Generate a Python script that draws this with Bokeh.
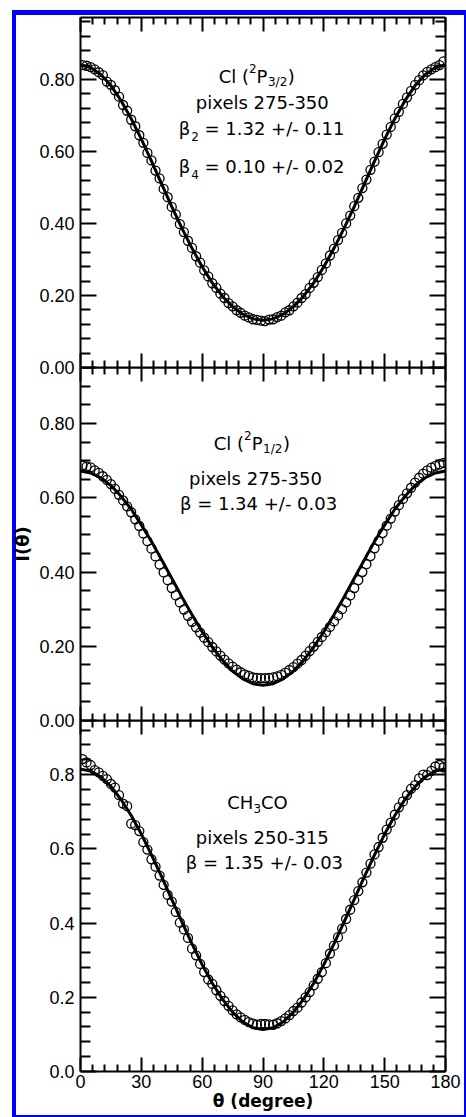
from bokeh.plotting import figure
from bokeh.models import Range1d, LinearAxis, FixedTicker, NumeralTickFormatter, Label, CustomJSTickFormatter
from bokeh.layouts import column
from bokeh.embed import file_html
from bokeh.resources import INLINE

# ---------------- data ----------------
theta = [1, 3, 5, 7, 9, 11, 13, 15, 17, 19, 21, 23, 25, 27, 29, 31, 33, 35, 37, 39,
         41, 43, 45, 47, 49, 51, 53, 55, 57, 59, 61, 63, 65, 67, 69, 71, 73, 75, 77, 79,
         81, 83, 85, 87, 89, 91, 93, 95, 97, 99, 101, 103, 105, 107, 109, 111, 113, 115, 117, 119,
         121, 123, 125, 127, 129, 131, 133, 135, 137, 139, 141, 143, 145, 147, 149, 151, 153, 155, 157, 159,
         161, 163, 165, 167, 169, 171, 173, 175, 177, 179]

cl32_data = [0.840, 0.838, 0.834, 0.828, 0.820, 0.812, 0.794, 0.785, 0.770, 0.752,
             0.729, 0.713, 0.688, 0.670, 0.645, 0.624, 0.596, 0.575, 0.547, 0.525,
             0.496, 0.473, 0.446, 0.425, 0.398, 0.376, 0.352, 0.332, 0.309, 0.291,
             0.270, 0.253, 0.234, 0.221, 0.205, 0.193, 0.179, 0.170, 0.159, 0.152,
             0.144, 0.139, 0.134, 0.132, 0.130,
             0.129, 0.133, 0.134, 0.140, 0.144, 0.153, 0.159, 0.170, 0.180, 0.193,
             0.204, 0.221, 0.235, 0.251, 0.271, 0.289, 0.311, 0.330, 0.354, 0.374,
             0.400, 0.422, 0.448, 0.471, 0.498, 0.522, 0.549, 0.572, 0.598, 0.621,
             0.647, 0.668, 0.692, 0.710, 0.732, 0.750, 0.768, 0.785, 0.798, 0.811,
             0.821, 0.828, 0.834, 0.840, 0.850]

cl12_data = [0.687, 0.684, 0.682, 0.674, 0.667, 0.658, 0.648, 0.637, 0.624, 0.608,
             0.593, 0.577, 0.561, 0.542, 0.524, 0.504, 0.483, 0.463, 0.442, 0.420,
             0.399, 0.378, 0.357, 0.337, 0.318, 0.299, 0.282, 0.266, 0.251, 0.237,
             0.223, 0.211, 0.198, 0.186, 0.175, 0.164, 0.154, 0.145, 0.137, 0.130,
             0.124, 0.120, 0.116, 0.115, 0.114,
             0.114, 0.115, 0.116, 0.119, 0.123, 0.129, 0.136, 0.144, 0.153, 0.163,
             0.175, 0.187, 0.199, 0.212, 0.225, 0.238, 0.252, 0.267, 0.283, 0.300,
             0.318, 0.337, 0.357, 0.378, 0.400, 0.421, 0.443, 0.464, 0.484, 0.505,
             0.525, 0.544, 0.563, 0.580, 0.597, 0.612, 0.627, 0.641, 0.654, 0.665,
             0.674, 0.681, 0.686, 0.690, 0.694]

ch3co_data = [0.842, 0.833, 0.826, 0.812, 0.806, 0.797, 0.788, 0.775, 0.765, 0.745,
              0.722, 0.715, 0.668, 0.664, 0.648, 0.618, 0.598, 0.572, 0.552, 0.528,
              0.503, 0.476, 0.458, 0.430, 0.401, 0.383, 0.360, 0.331, 0.313, 0.290,
              0.268, 0.248, 0.236, 0.219, 0.204, 0.190, 0.177, 0.165, 0.154, 0.146,
              0.139, 0.133, 0.129, 0.126, 0.128,
              0.128, 0.127, 0.126, 0.130, 0.136, 0.143, 0.152, 0.163, 0.172, 0.186,
              0.200, 0.214, 0.232, 0.250, 0.268, 0.292, 0.318, 0.339, 0.362, 0.385,
              0.411, 0.436, 0.462, 0.486, 0.510, 0.536, 0.560, 0.585, 0.605, 0.630,
              0.652, 0.671, 0.692, 0.712, 0.728, 0.745, 0.762, 0.772, 0.790, 0.800,
              0.799, 0.810, 0.822, 0.826, 0.820]

fit_theta = [0, 5, 10, 15, 20, 25, 30, 35, 40, 45, 50, 55, 60, 65, 70, 75, 80, 85, 90,
             95, 100, 105, 110, 115, 120, 125, 130, 135, 140, 145, 150, 155, 160, 165, 170, 175, 180]

cl32_fit = [0.840, 0.833, 0.814, 0.783, 0.741, 0.691, 0.634, 0.573, 0.510, 0.447, 0.387, 0.331,
            0.280, 0.235, 0.198, 0.169, 0.148, 0.135, 0.131, 0.135, 0.148, 0.169, 0.198, 0.235,
            0.280, 0.331, 0.387, 0.447, 0.510, 0.573, 0.634, 0.691, 0.741, 0.783, 0.814, 0.833, 0.840]

cl12_fit = [0.672, 0.667, 0.654, 0.633, 0.604, 0.569, 0.527, 0.482, 0.433, 0.383, 0.333, 0.285,
            0.239, 0.198, 0.162, 0.133, 0.112, 0.099, 0.095, 0.099, 0.112, 0.133, 0.162, 0.198,
            0.239, 0.285, 0.333, 0.383, 0.433, 0.482, 0.527, 0.569, 0.604, 0.633, 0.654, 0.667, 0.672]

ch3co_fit = [0.815, 0.810, 0.794, 0.768, 0.733, 0.690, 0.640, 0.584, 0.525, 0.464, 0.403, 0.344,
             0.288, 0.238, 0.195, 0.160, 0.134, 0.118, 0.113, 0.118, 0.134, 0.160, 0.195, 0.238,
             0.288, 0.344, 0.403, 0.464, 0.525, 0.584, 0.640, 0.690, 0.733, 0.768, 0.794, 0.810, 0.815]

x_major = [0, 30, 60, 90, 120, 150, 180]
x_minor = [6, 12, 18, 24, 36, 42, 48, 54, 66, 72, 78, 84, 96, 102, 108, 114,
           126, 132, 138, 144, 156, 162, 168, 174]
y_major = [0.0, 0.2, 0.4, 0.6, 0.8]
y_minor_04 = [0.04, 0.08, 0.12, 0.16, 0.24, 0.28, 0.32, 0.36, 0.44, 0.48, 0.52, 0.56,
              0.64, 0.68, 0.72, 0.76, 0.84, 0.88, 0.92, 0.96]
y_minor_05 = [0.05, 0.10, 0.15, 0.25, 0.30, 0.35, 0.45, 0.50, 0.55, 0.65, 0.70, 0.75,
              0.85, 0.90, 0.95]

x_title = "θ (degree)"
y_title = "I(θ)"

# ---------------- styling helpers ----------------
TICK_FONT = "Liberation Sans"
ANN_FONT = "DejaVu Sans"
ANN = 18
SMALL = 12
LEFT_BORDER = 72
ADV = {'C': 0.698, 'l': 0.278, ' ': 0.318, '(': 0.390, ')': 0.390, 'P': 0.603, '/': 0.337,
       'H': 0.752, 'O': 0.787, 'β': 0.637, '=': 0.838, '+': 0.838, '-': 0.361, '.': 0.318,
       'p': 0.635, 'i': 0.278, 'x': 0.592, 'e': 0.615, 's': 0.521}


def tw(s, size):
    return sum(ADV.get(ch, 0.636) for ch in s) * size


def style_axis(ax, ticker, major_len, minor_len, labels, fmt=None):
    ax.ticker = ticker
    ax.axis_line_width = 2
    ax.axis_line_color = "black"
    ax.major_tick_in = major_len
    ax.major_tick_out = 0
    ax.minor_tick_in = minor_len
    ax.minor_tick_out = 0
    ax.major_tick_line_width = 2
    ax.minor_tick_line_width = 2
    ax.major_tick_line_color = "black"
    ax.minor_tick_line_color = "black"
    if labels:
        ax.formatter = fmt
        ax.major_label_text_font = TICK_FONT
        ax.major_label_text_font_size = "18px"
        ax.major_label_text_color = "black"
    else:
        ax.formatter = CustomJSTickFormatter(code="return ''")
        ax.major_label_text_font_size = "0px"
        ax.major_label_standoff = 0


def panel(ymax, frame_h, y_minor, yfmt, top_border, bottom_border, xlabels):
    p = figure(frame_width=373, frame_height=frame_h,
               x_range=Range1d(0, 180), y_range=Range1d(0, ymax),
               min_border_left=LEFT_BORDER, min_border_right=11,
               min_border_top=top_border, min_border_bottom=bottom_border,
               output_backend="svg", toolbar_location=None,
               background_fill_color=None, border_fill_color=None)
    p.outline_line_color = None
    p.xgrid.visible = False
    p.ygrid.visible = False
    bottom_ax = p.below[0]
    left_ax = p.left[0]
    top_ax = LinearAxis()
    right_ax = LinearAxis()
    p.add_layout(top_ax, "above")
    p.add_layout(right_ax, "right")
    xt = FixedTicker(ticks=x_major, minor_ticks=x_minor)
    yt = FixedTicker(ticks=y_major, minor_ticks=y_minor)
    style_axis(bottom_ax, xt, 14, 7, xlabels, NumeralTickFormatter(format="0"))
    bottom_ax.major_label_standoff = 3
    style_axis(top_ax, xt, 14, 7, False)
    style_axis(left_ax, yt, 16, 10, True, NumeralTickFormatter(format=yfmt))
    left_ax.major_label_standoff = 6
    style_axis(right_ax, yt, 16, 10, False)
    return p


def rich(p, xc, yb, parts):
    total = sum(lead + tw(t, sz) for t, sz, dy, lead in parts)
    pos = -total / 2.0
    for t, sz, dy, lead in parts:
        pos += lead
        p.add_layout(Label(x=xc, y=yb, x_offset=pos, y_offset=dy, text=t,
                           text_font=ANN_FONT, text_font_size=f"{sz}px",
                           text_color="black", text_align="left",
                           text_baseline="alphabetic"))
        pos += tw(t, sz)


def draw(p, data, fit):
    p.scatter(theta, data, marker="circle", size=9, fill_color=None,
              line_color="black", line_width=1.3)
    p.line(fit_theta, fit, line_width=3, line_color="black")


def title_style(ax, text, size):
    ax.axis_label = text
    ax.axis_label_text_font = ANN_FONT
    ax.axis_label_text_font_size = size
    ax.axis_label_text_font_style = "bold"
    ax.axis_label_text_color = "black"


# ---------------- panels ----------------
p1 = panel(0.972, 350, y_minor_04, "0.00", 2, 10, False)
p1.margin = (0, 0, 0, -8)
draw(p1, cl32_data, cl32_fit)
rich(p1, 86.9, 0.808, [("Cl (", ANN, 0, 0), ("2", SMALL, 8, 0), ("P", ANN, 0, 0),
                       ("3/2", SMALL, -5, 0.5), (")", ANN, 0, 0.5)])
rich(p1, 89.8, 0.736, [("pixels 275-350", ANN, 0, 0)])
rich(p1, 89.3, 0.664, [("β", ANN, 0, 0), ("2", SMALL, -8, 1), ("= 1.32 +/- 0.11", ANN, 0, 5.7)])
rich(p1, 89.3, 0.558, [("β", ANN, 0, 0), ("4", SMALL, -8, 1), ("= 0.10 +/- 0.02", ANN, 0, 5.7)])

p2 = panel(0.951, 353, y_minor_05, "0.00", 0, 10, False)
p2.margin = (-10, 0, 0, -8)
draw(p2, cl12_data, cl12_fit)
rich(p2, 84.5, 0.745, [("Cl (", ANN, 0, 0), ("2", SMALL, 8, 0), ("P", ANN, 0, 0),
                       ("1/2", SMALL, -5, 0.5), (")", ANN, 0, 0.5)])
rich(p2, 86.4, 0.651, [("pixels 275-350", ANN, 0, 0)])
rich(p2, 87.8, 0.584, [("β = 1.34 +/- 0.03", ANN, 0, 0)])
title_style(p2.left[0], y_title, "18px")
p2.left[0].axis_label_standoff = 3

p3 = panel(0.946, 351, y_minor_04, "0.0", 0, 44, True)
p3.margin = (-10, 0, 0, -8)
draw(p3, ch3co_data, ch3co_fit)
rich(p3, 87.3, 0.725, [("CH", ANN, 0, 0), ("3", SMALL, -6, 0), ("CO", ANN, 0, 0)])
rich(p3, 89.8, 0.631, [("pixels 250-315", ANN, 0, 0)])
rich(p3, 90.7, 0.563, [("β = 1.35 +/- 0.03", ANN, 0, 0)])
title_style(p3.below[0], x_title, "17px")
p3.below[0].axis_label_standoff = 0

layout = column(p1, p2, p3, margin=(10, 0, 0, 12),
                styles={"border-style": "solid", "border-color": "#0000ff",
                        "border-width": "5px 2px 2px 4px"})

open("out.html", "w").write(file_html(layout, INLINE))
